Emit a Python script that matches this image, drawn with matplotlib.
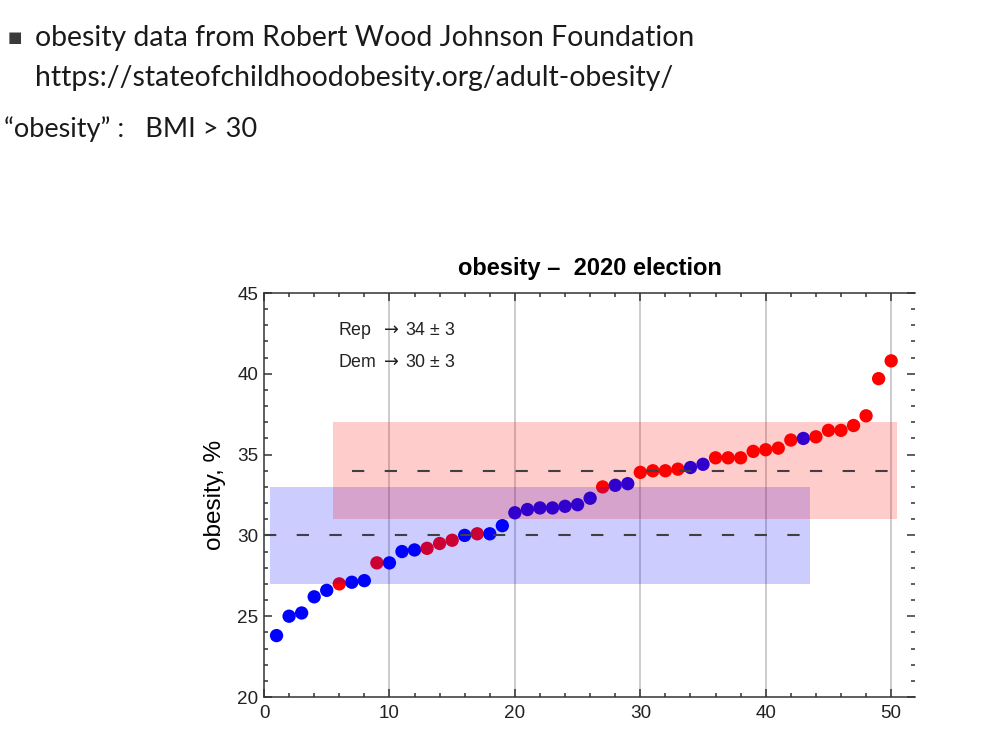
import matplotlib
matplotlib.use("Agg")
import matplotlib.pyplot as plt
from matplotlib.patches import Rectangle
from matplotlib.ticker import MultipleLocator

# ---------------- data ----------------
state_rank = list(range(1, 51))
obesity = [23.8, 25.0, 25.2, 26.2, 26.6, 27.0, 27.1, 27.2, 28.3, 28.3,
           29.0, 29.1, 29.2, 29.5, 29.7, 30.0, 30.1, 30.1, 30.6, 31.4,
           31.6, 31.7, 31.7, 31.8, 31.9, 32.3, 33.0, 33.1, 33.2, 33.9,
           34.0, 34.0, 34.1, 34.2, 34.4, 34.8, 34.8, 34.8, 35.2, 35.3,
           35.4, 35.9, 36.0, 36.1, 36.5, 36.5, 36.8, 37.4, 39.7, 40.8]
party = ['D', 'D', 'D', 'D', 'D', 'R', 'D', 'D', 'R', 'D',
         'D', 'D', 'R', 'R', 'R', 'D', 'R', 'D', 'D', 'D',
         'D', 'D', 'D', 'D', 'D', 'D', 'R', 'D', 'D', 'R',
         'R', 'R', 'R', 'D', 'D', 'R', 'R', 'R', 'R', 'R',
         'R', 'R', 'D', 'R', 'R', 'R', 'R', 'R', 'R', 'R']
rep_mean, rep_sd = 34, 3
dem_mean, dem_sd = 30, 3
rep_band_x = (5.5, 50.5)
dem_band_x = (0.5, 43.5)
rep_line_x = (7.0, 50.0)
dem_line_x = (0.0, 44.1)
title = "obesity \u2013  2020 election"
ylabel = "obesity, %"
header_lines = ["obesity data from Robert Wood Johnson Foundation",
                "https://stateofchildhoodobesity.org/adult-obesity/"]
header_def = "\u201cobesity\u201d :   BMI > 30"

W, H = 983, 737
fig = plt.figure(figsize=(W / 100, H / 100), dpi=100)
fig.patch.set_facecolor("white")
plt.rcParams["mathtext.fontset"] = "dejavusans"

# ---------------- header text ----------------
renderer = fig.canvas.get_renderer()

def fit_text(x_px, y_px, s, target_w, family, size0=20, **kw):
    t = fig.text(x_px / W, 1 - y_px / H, s, family=family, fontsize=size0,
                 va="center", ha="left", **kw)
    w = t.get_window_extent(renderer).width
    t.set_fontsize(size0 * target_w / w)
    return t

hdr_font = ["Lato", "DejaVu Sans"]
fig.text(8 / W, 1 - 38 / H, "\u25a0", family="DejaVu Sans", fontsize=11,
         va="center", ha="left", color="#3a3a3a")
fit_text(35, 38, header_lines[0], 660, hdr_font, color="#1a1a1a")
fit_text(35, 78, header_lines[1], 638, hdr_font, color="#1a1a1a")
fit_text(4, 129, header_def, 252, hdr_font, color="#1a1a1a")

# ---------------- axes ----------------
ax = fig.add_axes([264 / W, 1 - 697 / H, (915 - 264) / W, (697 - 293) / H])
ax.set_xlim(0, 51.9)
ax.set_ylim(20, 45)

for xv in [10, 20, 30, 40, 50]:
    ax.axvline(xv, color="#c8c8c8", lw=1.3, zorder=1)

colors = ["#0000ff" if p == 'D' else "#ff0000" for p in party]
ax.scatter(state_rank, obesity, s=92, c=colors, edgecolors="none", zorder=2)

ax.add_patch(Rectangle((dem_band_x[0], dem_mean - dem_sd),
                       dem_band_x[1] - dem_band_x[0], 2 * dem_sd,
                       facecolor="#0000ff", alpha=0.2, edgecolor="none", zorder=3))
ax.add_patch(Rectangle((rep_band_x[0], rep_mean - rep_sd),
                       rep_band_x[1] - rep_band_x[0], 2 * rep_sd,
                       facecolor="#ff0000", alpha=0.2, edgecolor="none", zorder=3))

dash = (0, (5.9, 9.8))
ax.plot(rep_line_x, [rep_mean, rep_mean], color="#404040", lw=1.5,
        linestyle=dash, zorder=4)
ax.plot(dem_line_x, [dem_mean, dem_mean], color="#404040", lw=1.5,
        linestyle=dash, zorder=4)

tfont = "Liberation Sans"
ax.text(5.9, 42.65, "Rep  $\\rightarrow\\,$%d \u00b1 %d" % (rep_mean, rep_sd),
        family=tfont, fontsize=12.8, va="center", ha="left", color="#222222")
ax.text(5.9, 40.73, "Dem $\\rightarrow\\,$%d \u00b1 %d" % (dem_mean, dem_sd),
        family=tfont, fontsize=12.8, va="center", ha="left", color="#222222")

ax.set_title(title, family=tfont, fontweight="bold", fontsize=17, pad=13)
ax.set_ylabel(ylabel, family=tfont, fontsize=17.5, labelpad=8)

ax.xaxis.set_major_locator(MultipleLocator(10))
ax.xaxis.set_minor_locator(MultipleLocator(2))
ax.yaxis.set_major_locator(MultipleLocator(5))
ax.yaxis.set_minor_locator(MultipleLocator(1))
ax.tick_params(which="both", direction="in", top=True, right=True,
               color="#333333", width=1.1, labelsize=13.6)
ax.tick_params(which="major", length=6)
ax.tick_params(which="minor", length=3.2)
ax.tick_params(axis="y", pad=4)
ax.tick_params(axis="x", pad=6)
for lab in ax.get_xticklabels() + ax.get_yticklabels():
    lab.set_family(tfont)
    lab.set_color("#222222")
ax.spines["right"].set_visible(False)
for sp in ["left", "bottom", "top"]:
    ax.spines[sp].set_color("#333333")
    ax.spines[sp].set_linewidth(1.1)

fig.savefig("out.png", dpi=100, facecolor="white")
